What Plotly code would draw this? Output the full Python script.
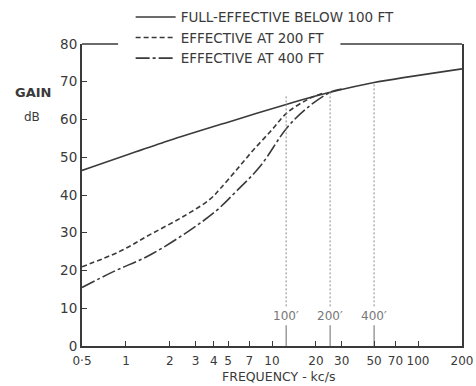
import math
import plotly.graph_objects as go

# Data
freq_full = [0.5, 2, 5, 12.5, 25, 50, 200]
gain_full = [46.5, 54.5, 59.3, 64.0, 67.2, 69.8, 73.4]

freq_200 = [0.5, 0.9, 1.46, 2.47, 3.77, 4.4, 5.7, 7.45, 10, 12.6, 17.7, 22]
gain_200 = [21.0, 25.0, 29.5, 34.3, 38.9, 41.6, 46.6, 51.9, 57.3, 61.7, 65.4, 66.9]

freq_400 = [0.5, 0.82, 1.46, 2.75, 4.2, 5.7, 8.3, 12.6, 17.3, 25, 30]
gain_400 = [15.5, 19.7, 24.1, 30.7, 36.0, 41.0, 47.6, 57.7, 63.0, 67.2, 68.1]

marker_freqs = [12.5, 25, 50]
marker_tops = [66.5, 67.5, 69.8]
marker_labels = ["100′", "200′", "400′"]

x_tickvals = [0.5, 1, 2, 3, 4, 5, 7, 10, 20, 30, 50, 70, 100, 200]
x_ticktext = ["0·5", "1", "2", "3", "4", "5", "7", "10", "20", "30", "50", "70", "100", "200"]
y_tickvals = [0, 10, 20, 30, 40, 50, 60, 70, 80]

ink = "#3a3a3a"
FONT = "DejaVu Sans"

fig = go.Figure()
fig.add_trace(go.Scatter(x=freq_full, y=gain_full, mode="lines", name="FULL-EFFECTIVE BELOW 100 FT",
                         line=dict(color=ink, width=1.6, shape="spline", smoothing=0.6)))
fig.add_trace(go.Scatter(x=freq_200, y=gain_200, mode="lines", name="EFFECTIVE AT 200 FT",
                         line=dict(color=ink, width=1.6, dash="5px,3px", shape="spline")))
fig.add_trace(go.Scatter(x=freq_400, y=gain_400, mode="lines", name="EFFECTIVE AT 400 FT",
                         line=dict(color=ink, width=1.6, dash="14px,3px,3px,3px", shape="spline")))

for f, top, lab in zip(marker_freqs, marker_tops, marker_labels):
    fig.add_trace(go.Scatter(x=[f, f], y=[10.5, top], mode="lines", showlegend=False, hoverinfo="skip",
                             line=dict(color="#8a8a8a", width=1, dash="2px,2px")))
    fig.add_trace(go.Scatter(x=[f, f], y=[0, 5.5], mode="lines", showlegend=False, hoverinfo="skip",
                             line=dict(color="#6a6a6a", width=1)))
    fig.add_annotation(x=math.log10(f), y=7.9, xref="x", yref="y", text=lab, showarrow=False,
                       font=dict(family=FONT, size=12, color="#777"))

fig.add_annotation(x=-0.129, y=0.839, xref="paper", yref="paper", text="<b>GAIN</b>", showarrow=False,
                   font=dict(family=FONT, size=13, color=ink), xanchor="center", yanchor="middle")
fig.add_annotation(x=-0.132, y=0.758, xref="paper", yref="paper", text="dB", showarrow=False,
                   font=dict(family=FONT, size=12, color=ink), xanchor="center", yanchor="middle")
fig.add_annotation(x=0.516, y=-0.1, xref="paper", yref="paper", text="FREQUENCY - kc/s", showarrow=False,
                   font=dict(family=FONT, size=12.5, color=ink), xanchor="center", yanchor="middle")

# top border, broken where the legend sits
fig.add_shape(type="line", xref="paper", yref="paper", x0=0, x1=0.095, y0=1, y1=1,
              line=dict(color=ink, width=1.5))
fig.add_shape(type="line", xref="paper", yref="paper", x0=0.68, x1=1, y0=1, y1=1,
              line=dict(color=ink, width=1.5))

fig.update_xaxes(type="log", range=[math.log10(0.5), math.log10(200)], tickvals=x_tickvals, ticktext=x_ticktext,
                 ticks="inside", ticklen=5, tickcolor=ink, showgrid=False, zeroline=False,
                 showline=True, linecolor=ink, linewidth=2, mirror=False, ticklabelstandoff=3,
                 tickfont=dict(family=FONT, size=12, color=ink))
fig.update_yaxes(range=[0, 80], tickvals=y_tickvals, ticks="inside", ticklen=5, tickcolor=ink,
                 showgrid=False, zeroline=False, showline=True, linecolor=ink, linewidth=2, mirror=True,
                 tickfont=dict(family=FONT, size=13.5, color=ink))

fig.update_layout(width=476, height=386, margin=dict(l=82, r=14, t=44, b=40, autoexpand=False),
                  paper_bgcolor="white", plot_bgcolor="white",
                  font=dict(family=FONT, color=ink),
                  legend=dict(x=0.128, y=1.14, xanchor="left", yanchor="top", bgcolor="rgba(0,0,0,0)",
                              font=dict(family=FONT, size=13.5, color=ink), tracegroupgap=0,
                              itemwidth=40))
fig.write_html("out.html")
